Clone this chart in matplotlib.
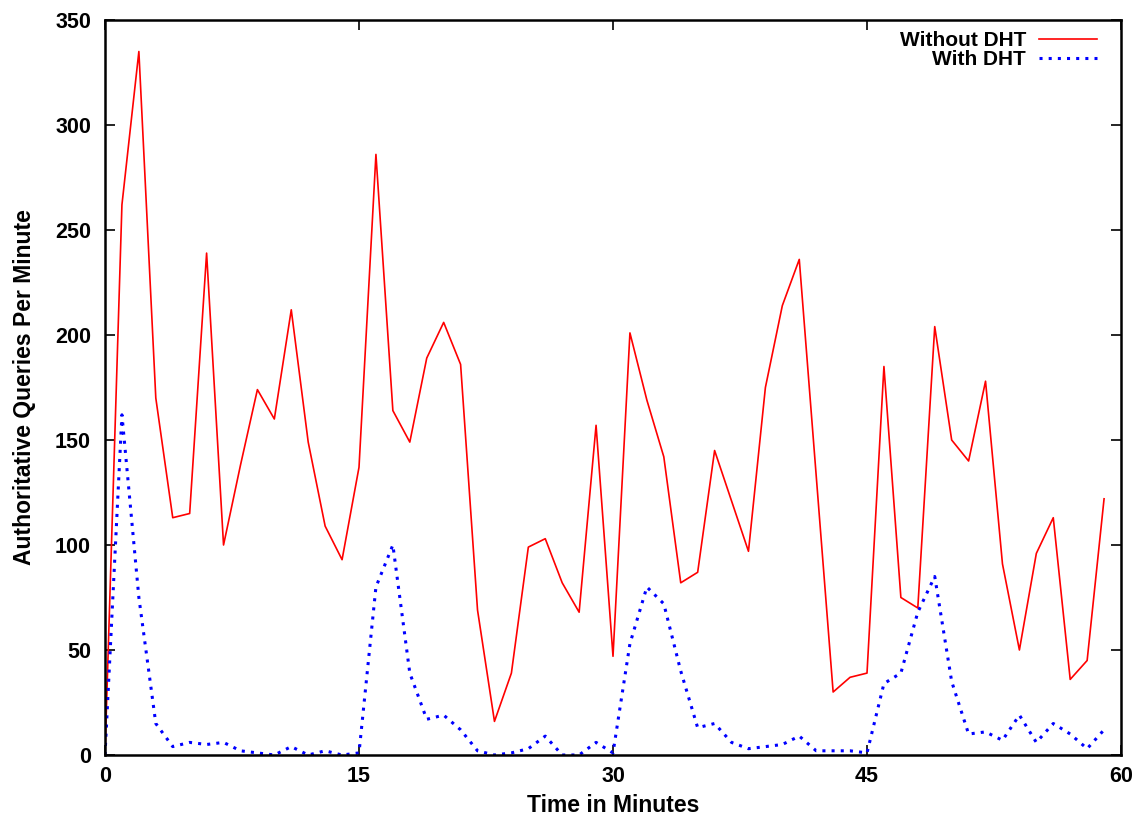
import matplotlib
matplotlib.use("Agg")
import matplotlib.pyplot as plt
import numpy as np

plt.rcParams['font.family'] = ['Liberation Sans', 'DejaVu Sans']
plt.rcParams['font.weight'] = 'bold'

# minutes 0..59
minutes = np.arange(60)

without_dht = [0, 262, 335, 170, 113, 115, 239, 100, 138, 174,
               160, 212, 149, 109, 93, 137, 286, 164, 149, 189,
               206, 186, 69, 16, 39, 99, 103, 82, 68, 157,
               47, 201, 169, 142, 82, 87, 145, 121, 97, 175,
               214, 236, 133, 30, 37, 39, 185, 75, 70, 204,
               150, 140, 178, 91, 50, 96, 113, 36, 45, 122]

with_dht = [0, 162, 75, 15, 4, 6, 5, 6, 2, 1,
            0, 4, 0, 2, 0, 1, 80, 100, 39, 17,
            19, 12, 2, 0, 1, 3, 9, 0, 0, 6,
            1, 53, 80, 72, 40, 13, 15, 6, 3, 4,
            5, 9, 2, 2, 2, 1, 34, 39, 68, 85,
            35, 10, 11, 7, 19, 6, 15, 10, 3, 12]

xticks = [0, 15, 30, 45, 60]
yticks = [0, 50, 100, 150, 200, 250, 300, 350]

fig = plt.figure(figsize=(11.45, 8.19), dpi=100)
ax = fig.add_axes([105 / 1145, 64 / 819, 1016 / 1145, 735 / 819])

ax.plot(minutes, without_dht, color='#ff0000', lw=1.2, label='Without DHT')
ax.plot(minutes, with_dht, color='#0000ff', lw=2.2, linestyle=(0, (1, 2)),
        label='With DHT')

ax.set_xlim(0, 60)
ax.set_ylim(0, 350)
ax.set_xticks(xticks)
ax.set_yticks(yticks)
ax.tick_params(direction='in', length=7, width=1.2, labelsize=15.5,
               top=True, right=True)
ax.tick_params(axis='y', pad=10)
ax.tick_params(axis='x', pad=8)
for s in ax.spines.values():
    s.set_linewidth(1.8)

ax.set_xlabel('Time in Minutes', fontsize=16.5, fontweight='bold', labelpad=5)
ax.set_ylabel('Authoritative Queries Per Minute', fontsize=16.5,
              fontweight='bold', labelpad=14)

ax.legend(loc='upper right', bbox_to_anchor=(1.0, 1.017), frameon=False,
          markerfirst=False, fontsize=15, handlelength=2.8,
          handletextpad=0.6, labelspacing=0.0, borderaxespad=0.75)

fig.savefig('out.png', dpi=100)
